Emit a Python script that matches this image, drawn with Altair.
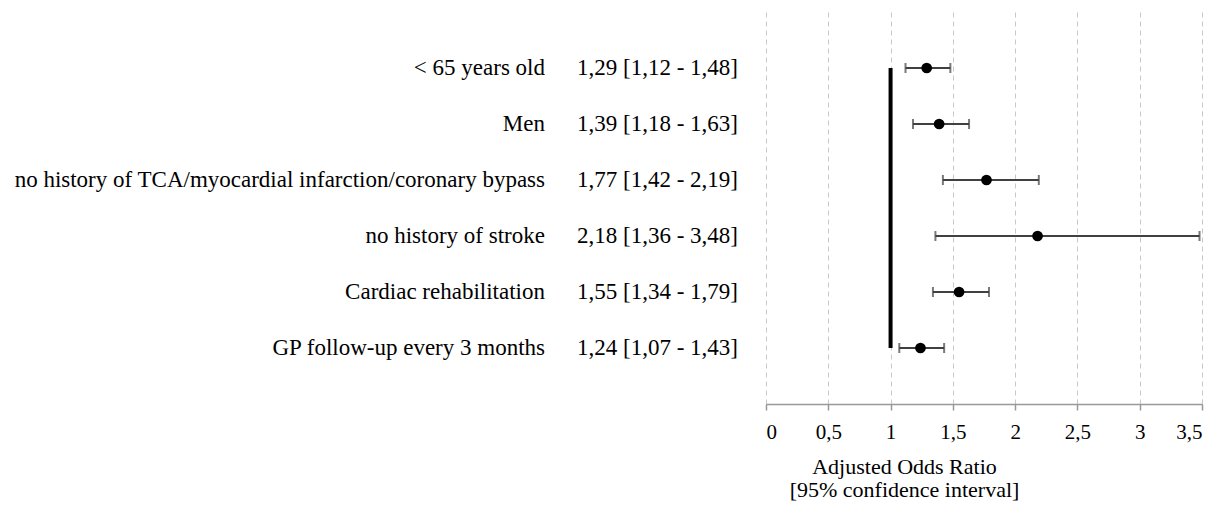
import altair as alt
import pandas as pd

categories = [
    "< 65 years old",
    "Men",
    "no history of TCA/myocardial infarction/coronary bypass",
    "no history of stroke",
    "Cardiac rehabilitation",
    "GP follow-up every 3 months",
]
odds = [1.29, 1.39, 1.77, 2.18, 1.55, 1.24]
low = [1.12, 1.18, 1.42, 1.36, 1.34, 1.07]
high = [1.48, 1.63, 2.19, 3.48, 1.79, 1.43]
x_ticks = [0, 0.5, 1, 1.5, 2, 2.5, 3, 3.5]
ref_value = 1


def fr(v):
    return f"{v:.2f}".replace(".", ",")


df = pd.DataFrame({
    "cat": categories,
    "order": list(range(len(categories))),
    "or": odds,
    "lo": low,
    "hi": high,
    "ref": [ref_value] * len(categories),
    "txt": [f"{fr(o)} [{fr(l)} - {fr(h)}]" for o, l, h in zip(odds, low, high)],
})

FONT = "Liberation Serif"
TXT = 23

yscale = alt.Scale(type="point", domain=categories, padding=1)
xscale = alt.Scale(domain=[0, 3.5], nice=False, zero=False)

xaxis = alt.Axis(
    values=x_ticks,
    labelExpr="replace(format(datum.value, '~g'), '.', ',')",
    grid=True,
    gridDash=[5, 4],
    gridColor="#c8c8c8",
    gridWidth=1,
    domainColor="#999999",
    domainWidth=1.5,
    tickColor="#999999",
    tickWidth=1.5,
    tickSize=6,
    labelPadding=11,
    labelFont=FONT,
    labelFontSize=21,
    labelColor="black",
    title=["Adjusted Odds Ratio", "[95% confidence interval]"],
    titleFont=FONT,
    titleFontSize=22,
    titleFontWeight="normal",
    titleColor="black",
    titleX=138,
    titleY=69,
    titleAlign="center",
    titleAnchor="start",
    titleBaseline="alphabetic",
    titleLineHeight=23,
)

base = alt.Chart(df)

refline = base.mark_line(color="black", strokeWidth=4).encode(
    x=alt.X("ref:Q", scale=xscale, axis=xaxis),
    y=alt.Y("cat:N", scale=yscale, axis=None),
    order="order:Q",
)
rules = base.mark_rule(color="#404040", strokeWidth=2).encode(
    x=alt.X("lo:Q", scale=xscale),
    x2="hi:Q",
    y=alt.Y("cat:N", scale=yscale),
)
caps_lo = base.mark_tick(color="#404040", thickness=2, size=10).encode(
    x=alt.X("lo:Q", scale=xscale),
    y=alt.Y("cat:N", scale=yscale),
)
caps_hi = base.mark_tick(color="#404040", thickness=2, size=10).encode(
    x=alt.X("hi:Q", scale=xscale),
    y=alt.Y("cat:N", scale=yscale),
)
points = base.mark_point(filled=True, color="black", size=115, opacity=1, shape="circle").encode(
    x=alt.X("or:Q", scale=xscale),
    y=alt.Y("cat:N", scale=yscale),
)
cat_text = base.mark_text(align="right", baseline="middle", font=FONT, fontSize=TXT, color="black").encode(
    x=alt.value(-221),
    y=alt.Y("cat:N", scale=yscale),
    text="cat:N",
)
or_text = base.mark_text(align="left", baseline="middle", font=FONT, fontSize=TXT, color="black").encode(
    x=alt.value(-189),
    y=alt.Y("cat:N", scale=yscale),
    text="txt:N",
)

chart = alt.layer(refline, rules, caps_lo, caps_hi, points, cat_text, or_text).properties(
    width=436,
    height=392,
    autosize=alt.AutoSizeParams(type="none"),
    padding={"left": 758, "top": 4, "right": 12, "bottom": 98},
).configure_view(stroke=None)

chart.save("out.html", embed_options={"renderer": "svg", "actions": False})
